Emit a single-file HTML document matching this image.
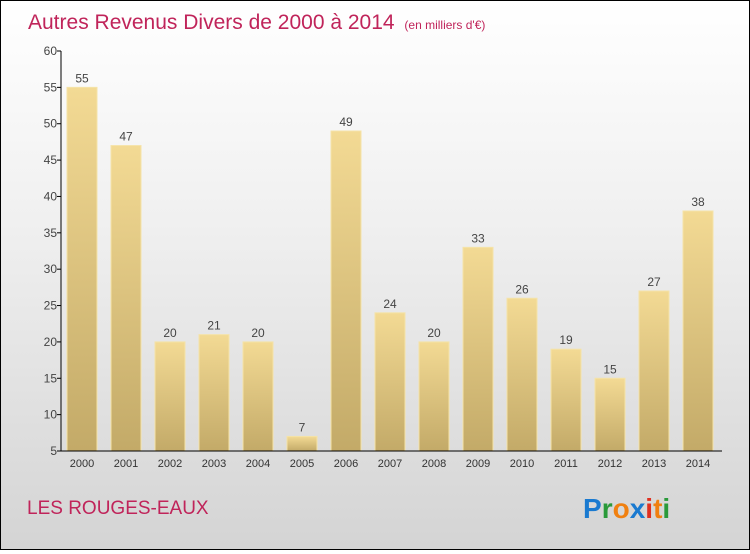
<!DOCTYPE html>
<html><head><meta charset="utf-8">
<style>
body{margin:0;width:750px;height:550px;overflow:hidden;font-family:"Liberation Sans",sans-serif;}
#wrap{position:relative;width:748px;height:548px;border:1px solid #000;background:linear-gradient(#ffffff 0%,#f0f0f0 40%,#d4d4d4 100%);}
</style></head><body>
<div id="wrap">
<svg id="chart" width="748" height="548">
<defs><linearGradient id="bg" x1="0" y1="0" x2="0" y2="1"><stop offset="0" stop-color="#f3da94"/><stop offset="1" stop-color="#c3aa68"/></linearGradient></defs>
<text x="27" y="28" font-size="21" fill="#c0245a">Autres Revenus Divers de 2000 à 2014 <tspan font-size="12" dx="4">(en milliers d'€)</tspan></text>
<text x="26" y="513" font-size="19" fill="#c0245a">LES ROUGES-EAUX</text>
<g font-size="28" font-weight="bold" font-family="'Liberation Sans',sans-serif">
<text x="582" y="517"><tspan fill="#1a7ad0">P</tspan><tspan fill="#2a9a3a">r</tspan><tspan fill="#f08010">o</tspan><tspan fill="#1a7ad0">x</tspan><tspan fill="#e03020">i</tspan><tspan fill="#f08010">t</tspan><tspan fill="#2a9a3a">i</tspan></text></g>
<g id="plot"></g>
</svg></div>
<script>
const categories=["2000","2001","2002","2003","2004","2005","2006","2007","2008","2009","2010","2011","2012","2013","2014"];
const values=[55,47,20,21,20,7,49,24,20,33,26,19,15,27,38];
const yTicks=[5,10,15,20,25,30,35,40,45,50,55,60];
const NS="http://www.w3.org/2000/svg";
const g=document.getElementById('plot');
const y=v=>450-(v-5)*400/55;
const x=i=>81+i*44;
function mk(t,a,txt){const e=document.createElementNS(NS,t);for(const k in a)e.setAttribute(k,a[k]);if(txt!==undefined)e.textContent=txt;g.appendChild(e);return e;}
values.forEach((v,i)=>{
 const r=mk('rect',{x:x(i)-15,y:y(v),width:30,height:450-y(v),fill:'url(#bg)',stroke:'#f5e3a8','stroke-width':1});
 
 
 const t=mk('text',{x:x(i),y:y(v)-5,'text-anchor':'middle','font-size':12,fill:'#444'},String(v));
 
 
 const c=mk('text',{x:x(i),y:466,'text-anchor':'middle','font-size':11,fill:'#333'},categories[i]);
 
 
});
yTicks.forEach(v=>{
 const l=mk('line',{x1:56,x2:60,y1:y(v),y2:y(v),stroke:'#000'});
 
 
 const t=mk('text',{x:56,y:y(v)+4,'text-anchor':'end','font-size':12,fill:'#444'},String(v));
 
 
});
const ya=mk('line',{x1:60,x2:60,y1:y(60),y2:450,stroke:'#000'});


const xa=mk('line',{x1:60,x2:721,y1:450,y2:450,stroke:'#000'});


</script>
</body></html>
